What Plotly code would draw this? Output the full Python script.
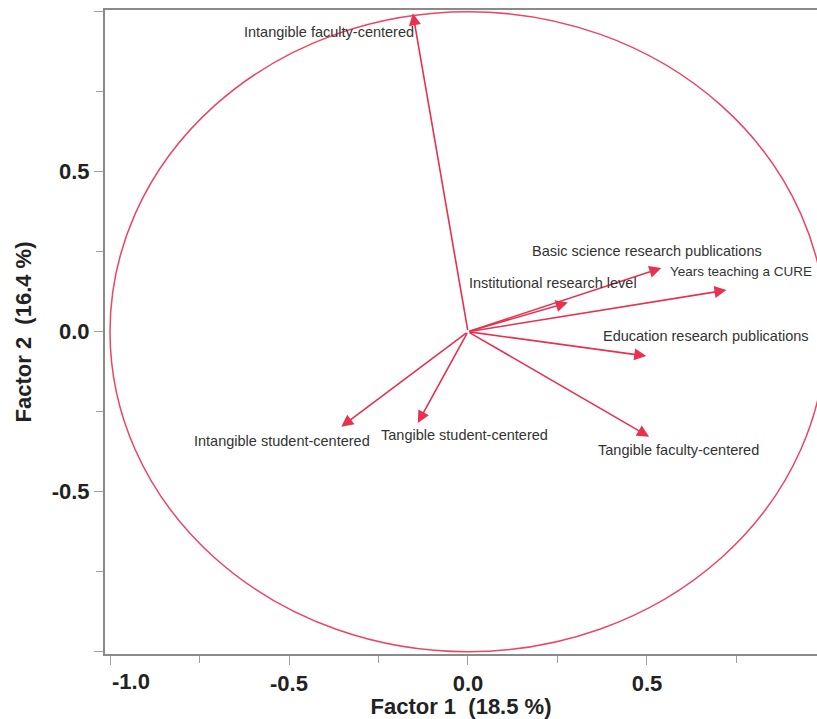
import plotly.graph_objects as go

# Loadings (Factor 1, Factor 2)
variables = [
    "Intangible faculty-centered",
    "Basic science research publications",
    "Years teaching a CURE",
    "Institutional research level",
    "Education research publications",
    "Tangible faculty-centered",
    "Intangible student-centered",
    "Tangible student-centered",
]
factor1 = [-0.154, 0.540, 0.722, 0.279, 0.498, 0.506, -0.354, -0.140]
factor2 = [0.995, 0.199, 0.130, 0.091, -0.076, -0.328, -0.297, -0.285]

# label positions (data coords)
label_x = [-0.389, 0.501, 0.967, 0.238, 0.666, 0.587, -0.519, -0.010]
label_y = [0.938, 0.252, 0.187, 0.152, -0.013, -0.370, -0.341, -0.323]

x_ticks = [-1.0, -0.5, 0.0, 0.5]
x_ticktext = ["", "-0.5", "0.0", "0.5"]
y_ticks = [-1.0, -0.5, 0.0, 0.5, 1.0]
y_ticktext = ["", "-0.5", "0.0", "0.5", ""]
minor_ticks = [-0.75, -0.25, 0.25, 0.75]

RED = "#E8304F"
CIRCLE = "#EC4563"
AXIS = "#8a8a8a"
FONT = "Liberation Sans, Arial, Helvetica, sans-serif"
TICKFONT = dict(family=FONT, size=22, color="#222222", weight="bold")

fig = go.Figure()
fig.add_trace(go.Scatter(x=[0], y=[0], mode="markers", marker=dict(size=1, color="rgba(0,0,0,0)"),
                         showlegend=False, hoverinfo="skip"))

fig.add_shape(type="circle", xref="x", yref="y", x0=-1, y0=-1, x1=1, y1=1,
              line=dict(color=CIRCLE, width=1.5))

annotations = []
for i, (name, fx, fy, lx, ly) in enumerate(zip(variables, factor1, factor2, label_x, label_y)):
    annotations.append(dict(
        x=fx, y=fy, ax=0, ay=0, xref="x", yref="y", axref="x", ayref="y",
        text="", showarrow=True, arrowhead=2, arrowsize=1.5, arrowwidth=1.6,
        arrowcolor=RED, standoff=0, startstandoff=0,
    ))
    edge_label = (i == 2)  # label touching the right edge is right-anchored
    annotations.append(dict(
        x=lx, y=ly, xref="x", yref="y", text=name, showarrow=False,
        font=dict(family=FONT, size=13.5 if edge_label else 14.5, color="#333333"),
        xanchor="right" if edge_label else "center", yanchor="middle",
    ))

# "-1.0" label, placed right of its tick as in the original
annotations.append(dict(
    x=-1.0, y=0, xref="x", yref="paper", text="-1.0", showarrow=False,
    xanchor="left", yanchor="middle", yshift=-27,
    font=TICKFONT,
))

fig.update_layout(
    width=817, height=719,
    margin=dict(l=105, r=0, t=10, b=65),
    paper_bgcolor="white", plot_bgcolor="white",
    showlegend=False,
    annotations=annotations,
    font=dict(family=FONT),
)

fig.update_xaxes(
    range=[-1.014, 0.975], showgrid=False, zeroline=False,
    showline=True, linecolor=AXIS, linewidth=2, mirror=True,
    tickmode="array", tickvals=x_ticks, ticktext=x_ticktext,
    ticks="outside", ticklen=9, tickwidth=1, tickcolor="#a0a0a0",
    tickfont=TICKFONT,
    minor=dict(tickvals=minor_ticks, ticks="outside", ticklen=7, tickwidth=1, tickcolor="#a0a0a0"),
    title=dict(text="Factor 1\u00a0\u00a0(18.5 %)", standoff=2,
               font=dict(family=FONT, size=22, color="#222222", weight="bold")),
)
fig.update_yaxes(
    range=[-1.0072, 1.0053], showgrid=False, zeroline=False,
    showline=True, linecolor=AXIS, linewidth=2, mirror=False,
    tickmode="array", tickvals=y_ticks, ticktext=y_ticktext,
    ticks="outside", ticklen=9, tickwidth=1, tickcolor="#a0a0a0",
    tickfont=TICKFONT,
    minor=dict(tickvals=minor_ticks, ticks="outside", ticklen=7, tickwidth=1, tickcolor="#a0a0a0"),
    title=dict(text="Factor 2\u00a0\u00a0(16.4 %)", standoff=14,
               font=dict(family=FONT, size=22, color="#222222", weight="bold")),
)

fig.write_html(
    "out.html",
    config={"displayModeBar": False},
    post_script="document.body.style.margin='0';document.body.style.overflow='hidden';",
)
